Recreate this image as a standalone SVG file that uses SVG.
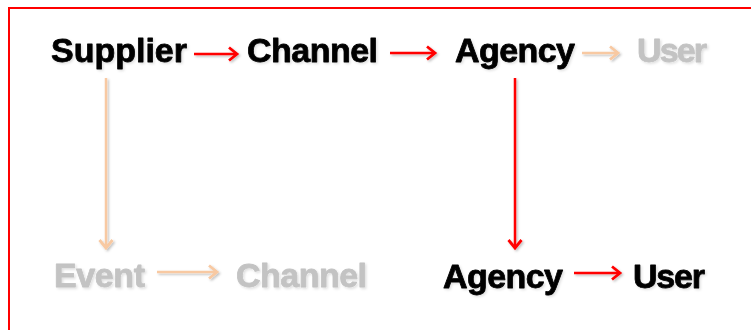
<svg xmlns="http://www.w3.org/2000/svg" width="751" height="330" viewBox="0 0 751 330">
<defs>
<style>
.t{font-family:"Liberation Sans",Arial,sans-serif;font-weight:bold;font-size:34px;stroke-width:0.8;stroke-linejoin:round}
.k{fill:#000;stroke:#000}
.g{fill:#c3c3c3;stroke:#c3c3c3}
.r{stroke:#ff0000;stroke-width:2.5;fill:none;stroke-linecap:butt}
.p{stroke:#f8c9a2;stroke-width:2.5;fill:none}
</style>
<filter id="sh" x="-20%" y="-20%" width="140%" height="140%">
<feDropShadow dx="1.5" dy="1.5" stdDeviation="1" flood-color="#000" flood-opacity="0.25"/>
</filter>
<filter id="ts" x="-20%" y="-20%" width="140%" height="140%">
<feDropShadow dx="1.5" dy="1.5" stdDeviation="1" flood-color="#000" flood-opacity="0.12"/>
</filter>
<marker id="ar" markerWidth="14" markerHeight="16" refX="11" refY="8" orient="auto" markerUnits="userSpaceOnUse">
<path d="M3,1.5 L11,8 L3,14.5" fill="none" stroke="#ff0000" stroke-width="2.8"/>
</marker>
<marker id="ap" markerWidth="14" markerHeight="16" refX="11" refY="8" orient="auto" markerUnits="userSpaceOnUse">
<path d="M3,1.5 L11,8 L3,14.5" fill="none" stroke="#f8c9a2" stroke-width="2.8"/>
</marker>
</defs>
<rect x="0" y="0" width="751" height="330" fill="#fff"/>
<path d="M9,340 L9,8 L760,8" fill="none" stroke="#ff0000" stroke-width="2"/>
<g id="connectors" filter="url(#sh)">
<line class="r" x1="194" y1="54" x2="237" y2="54" marker-end="url(#ar)"/>
<line class="r" x1="390" y1="53" x2="435" y2="53" marker-end="url(#ar)"/>
<line class="p" x1="582" y1="53" x2="618" y2="53" marker-end="url(#ap)"/>
<line class="p" x1="106" y1="78" x2="106" y2="248" marker-end="url(#ap)"/>
<line class="r" x1="515" y1="78" x2="515" y2="248" marker-end="url(#ar)"/>
<line class="p" x1="157" y1="272" x2="217" y2="272" marker-end="url(#ap)"/>
<line class="r" x1="574" y1="273" x2="620" y2="273" marker-end="url(#ar)"/>
</g>
<g filter="url(#ts)">
<g id="supplier"><text class="t k" x="51" y="62" textLength="136">Supplier</text></g>
<g id="channel1"><text class="t k" x="247" y="62" textLength="131">Channel</text></g>
<g id="agency1"><text class="t k" x="455" y="62" textLength="120">Agency</text></g>
<g id="user1"><text class="t g" x="637" y="62" textLength="70">User</text></g>
<g id="event"><text class="t g" x="54" y="287" textLength="91">Event</text></g>
<g id="channel2"><text class="t g" x="236" y="287" textLength="131">Channel</text></g>
<g id="agency2"><text class="t k" x="443" y="288" textLength="120">Agency</text></g>
<g id="user2"><text class="t k" x="633" y="288" textLength="72">User</text></g>
</g>
</svg>
